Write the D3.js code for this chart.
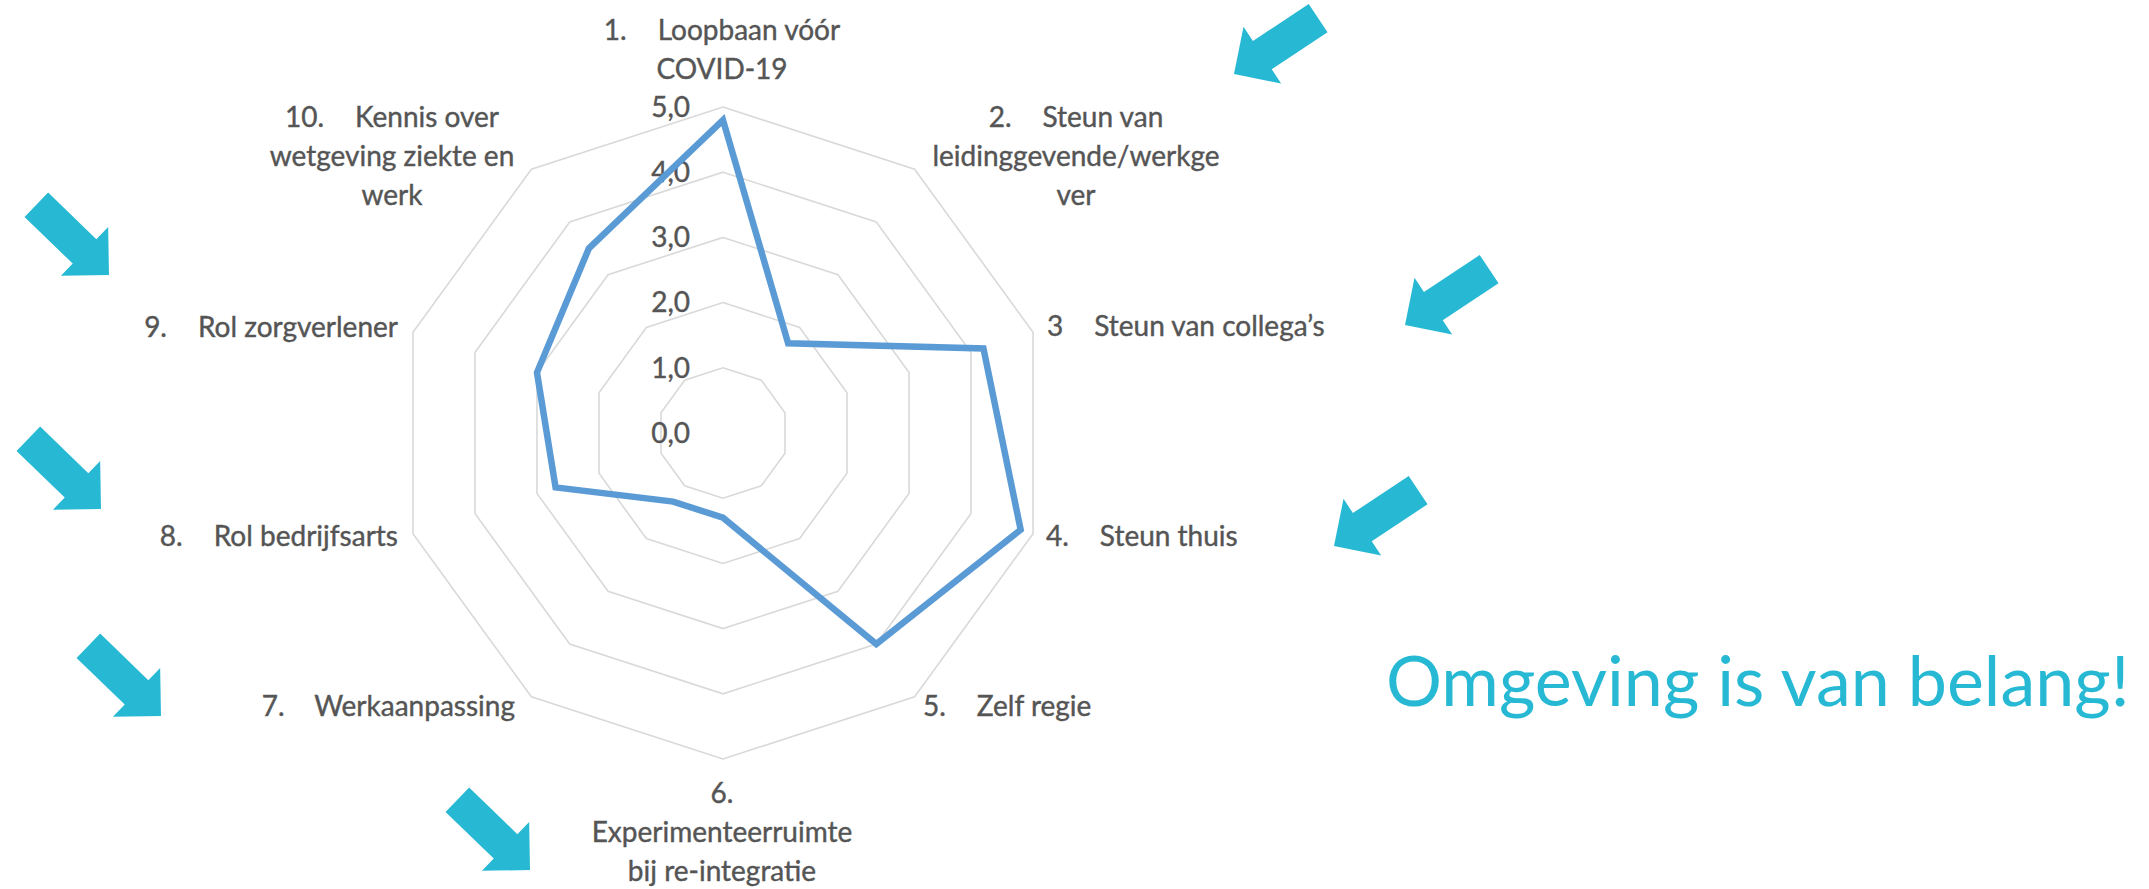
<!DOCTYPE html>
<html>
<head>
<meta charset="utf-8">
<script src="https://cdn.jsdelivr.net/npm/d3@7"></script>
<style>
  html, body { margin: 0; padding: 0; background: #fff; }
  svg { display: block; }
  text { font-family: Lato, "Open Sans", sans-serif; }
</style>
</head>
<body>
<svg id="chart" width="2149" height="889"></svg>
<script>
// chart data
const categoryNumbers = ["1.", "2.", "3", "4.", "5.", "6.", "7.", "8.", "9.", "10."];
const categoryLines = [
    ["Loopbaan vóór", "COVID-19"],
    ["Steun van", "leidinggevende/werkge", "ver"],
    ["Steun van collega\u2019s"],
    ["Steun thuis"],
    ["Zelf regie"],
    ["", "Experimenteerruimte", "bij re-integratie"],
    ["Werkaanpassing"],
    ["Rol bedrijfsarts"],
    ["Rol zorgverlener"],
    ["Kennis over", "wetgeving ziekte en", "werk"]
];
const scores = [4.8, 1.7, 4.2, 4.8, 4.0, 1.3, 1.3, 2.7, 3.0, 3.5];
const gridLevels = [1, 2, 3, 4, 5];
const tickValues = [0, 1, 2, 3, 4, 5];
const message = "Omgeving is van belang!";

// layout
const width = 2149, height = 889;
const cx = 723, cy = 433, outerR = 326;
const lineHeight = 39;
const numberGap = 31;
const labelLayout = [
    { anchor: "middle", x: 722, y: 40 },
    { anchor: "middle", x: 1076, y: 127 },
    { anchor: "start", x: 1047, y: 336 },
    { anchor: "start", x: 1046, y: 546 },
    { anchor: "start", x: 923, y: 716 },
    { anchor: "middle", x: 722, y: 803 },
    { anchor: "end", x: 515, y: 716 },
    { anchor: "end", x: 398, y: 546 },
    { anchor: "end", x: 398, y: 337 },
    { anchor: "middle", x: 392, y: 127 }
];
// decorative arrows: tip position and direction in degrees
const arrows = [
    { x: 1234, y: 74, angle: 146.4 },
    { x: 1405, y: 325, angle: 146.4 },
    { x: 1334, y: 546, angle: 146.4 },
    { x: 109, y: 275, angle: 44 },
    { x: 101, y: 509, angle: 44 },
    { x: 161, y: 716, angle: 44 },
    { x: 530, y: 870, angle: 44 }
];

const textColor = "#555555";
const gridColor = "#d9d9d9";
const lineColor = "#5b9bd5";
const accent = "#27b9d4";

const svg = d3.select("#chart");
svg.append("rect").attr("width", width).attr("height", height).attr("fill", "#fff");

const r = d3.scaleLinear().domain([0, 5]).range([0, outerR]);
const angle = d3.scaleLinear().domain([0, categoryNumbers.length]).range([0, 2 * Math.PI]);
const fmt = d3.formatLocale({ decimal: ",", thousands: ".", grouping: [3], currency: ["€", ""] }).format(".1f");

const g = svg.append("g").attr("transform", `translate(${cx},${cy})`);

// grid rings
const ring = d3.lineRadial()
    .angle((d, i) => angle(i))
    .radius(d => r(d))
    .curve(d3.curveLinearClosed);

g.selectAll("path.grid")
    .data(gridLevels)
    .join("path")
    .attr("class", "grid")
    .attr("d", lvl => ring(categoryNumbers.map(() => lvl)))
    .attr("fill", "none")
    .attr("stroke", gridColor)
    .attr("stroke-width", 1.6);

// tick labels
g.selectAll("text.tick")
    .data(tickValues)
    .join("text")
    .attr("class", "tick")
    .attr("x", -33)
    .attr("y", d => -r(d))
    .attr("dy", "0.35em")
    .attr("text-anchor", "end")
    .attr("font-size", 28)
    .attr("fill", textColor)
    .attr("stroke", textColor)
    .attr("stroke-width", 0.4)
    .text(d => fmt(d));

// data line
g.append("path")
    .datum(scores)
    .attr("d", ring)
    .attr("fill", "none")
    .attr("stroke", lineColor)
    .attr("stroke-width", 6.5)
    .attr("stroke-linejoin", "miter");

// category labels
categoryLines.forEach((lines, i) => {
    const lay = labelLayout[i];
    lines.forEach((line, j) => {
        const t = svg.append("text")
            .attr("x", lay.x)
            .attr("y", lay.y + j * lineHeight)
            .attr("text-anchor", lay.anchor)
            .attr("font-size", 28)
            .attr("fill", textColor)
            .attr("stroke", textColor)
            .attr("stroke-width", 0.4);
        if (j === 0) {
            t.append("tspan").text(categoryNumbers[i]);
            if (line) t.append("tspan").attr("dx", numberGap).text(line);
        } else {
            t.text(line);
        }
    });
});

// arrows
const arrowShape = [[0, 0], [-34, -34], [-34, -17], [-101, -17], [-101, 17], [-34, 17], [-34, 34]];
svg.selectAll("path.arrow")
    .data(arrows)
    .join("path")
    .attr("class", "arrow")
    .attr("d", "M" + arrowShape.join("L") + "Z")
    .attr("transform", d => `translate(${d.x},${d.y}) rotate(${d.angle})`)
    .attr("fill", accent);

// message
svg.append("text")
    .attr("x", 1386)
    .attr("y", 706)
    .attr("font-size", 70)
    .attr("fill", accent)
    .text(message);
</script>
</body>
</html>
